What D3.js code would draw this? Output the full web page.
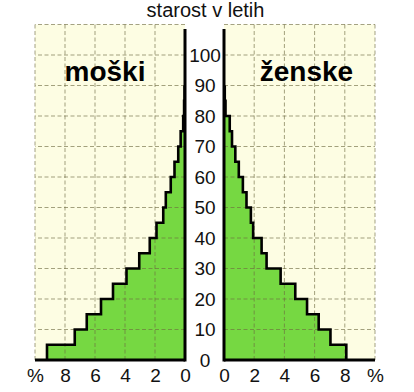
<!DOCTYPE html>
<html><head><meta charset="utf-8">
<script src="https://cdn.jsdelivr.net/npm/d3@7"></script>
<style>
html,body{margin:0;padding:0;background:#fff;}
svg{display:block;font-family:"Liberation Sans",Arial,Helvetica,sans-serif;}
</style></head>
<body>
<svg id="c" width="414" height="392"></svg>
<script>
// Age groups (start of each 5-year band)
const ageStart = [0,5,10,15,20,25,30,35,40,45,50,55,60,65,70,75,80,85];
// Share of population (%) per band
const male   = [9.2,7.35,6.55,5.6,4.8,3.9,3.05,2.35,1.9,1.45,1.28,0.95,0.7,0.45,0.29,0.12,0.06,0.03];
const female = [8.1,7.05,6.27,5.5,4.72,3.75,2.82,2.49,1.93,1.78,1.49,1.25,0.98,0.75,0.53,0.38,0.1,0.05];
const ageTicks = [0,10,20,30,40,50,60,70,80,90,100];
const pctTicks = [0,2,4,6,8,10];
const title = "starost v letih";
const labelMale = "moški", labelFemale = "ženske";

const svg = d3.select("#c");
const y  = d3.scaleLinear().domain([0,110]).range([360,24.5]);
const xL = d3.scaleLinear().domain([0,10]).range([185,35]);
const xR = d3.scaleLinear().domain([0,10]).range([224,375]);

const bg = "#fdfde3", green = "#76d842", grid = "#6e6a40";

function panel(x, data) {
  const g = svg.append("g");
  const [a,b] = x.range();
  g.append("rect").attr("x", Math.min(a,b)).attr("y", y(110))
    .attr("width", Math.abs(b-a)).attr("height", y(0)-y(110)).attr("fill", bg);
  // step shape
  const pts = [[0,0]];
  data.forEach((v,i)=>{ pts.push([v, ageStart[i]]); pts.push([v, ageStart[i]+5]); });
  pts.push([0, ageStart[ageStart.length-1]+5]);
  const line = d3.line().x(d=>x(d[0])).y(d=>y(d[1]));
  g.append("path").attr("d", line(pts)+"Z").attr("fill", green);
  // horizontal grid
  g.selectAll("line.h").data(d3.range(10,111,10)).join("line")
    .attr("x1", x(0)).attr("x2", x(10)).attr("y1", d=>y(d)).attr("y2", d=>y(d))
    .attr("stroke", grid).attr("stroke-opacity",0.7).attr("stroke-width",0.9).attr("stroke-dasharray","4,2.5");
  // vertical grid
  g.selectAll("line.v").data([2,4,6,8,10]).join("line")
    .attr("x1", d=>x(d)).attr("x2", d=>x(d)).attr("y1", y(0)).attr("y2", y(110))
    .attr("stroke", grid).attr("stroke-opacity",0.7).attr("stroke-width",0.9).attr("stroke-dasharray","4,2.5");
  g.append("path").attr("d", line(pts.slice(1, pts.length-1)))
    .attr("fill","none").attr("stroke","#000").attr("stroke-width",2.6).attr("stroke-linejoin","miter");
  // axes lines
  g.append("line").attr("x1", x(0)).attr("x2", x(0)).attr("y1", y(108.5)).attr("y2", y(0)+1.5)
    .attr("stroke","#000").attr("stroke-width",3);
  g.append("line").attr("x1", x(0)).attr("x2", x(10)).attr("y1", y(0)).attr("y2", y(0))
    .attr("stroke","#000").attr("stroke-width",3);
  // bottom ticks
  const ax = d3.axisBottom(x).tickValues(pctTicks).tickSize(0).tickPadding(0)
    .tickFormat(d => d===10 ? "%" : d);
  const ag = g.append("g").attr("transform","translate(0,372.5)").call(ax);
  ag.select(".domain").remove();
  ag.selectAll("text").attr("font-size",19).attr("fill","#111")
    .attr("font-family","'Liberation Sans',Arial,sans-serif")
    .attr("dy","0.5em");
  return g;
}
panel(xL, male);
panel(xR, female);

// age labels in the middle
svg.append("g").selectAll("text").data(ageTicks).join("text")
  .attr("x", 205).attr("y", d=>y(d)).attr("dy","0.36em")
  .attr("text-anchor","middle").attr("font-size",19).attr("fill","#111").text(d=>d);

svg.append("text").attr("x",205.5).attr("y",16.5).attr("text-anchor","middle")
  .attr("font-size",20).attr("fill","#111").text(title);
svg.append("text").attr("x",105).attr("y",80.5).attr("text-anchor","middle")
  .attr("font-size",28).attr("font-weight","bold").attr("fill","#000").text(labelMale);
svg.append("text").attr("x",306.5).attr("y",80.5).attr("text-anchor","middle")
  .attr("font-size",28).attr("font-weight","bold").attr("fill","#000").text(labelFemale);
</script>
</body></html>
